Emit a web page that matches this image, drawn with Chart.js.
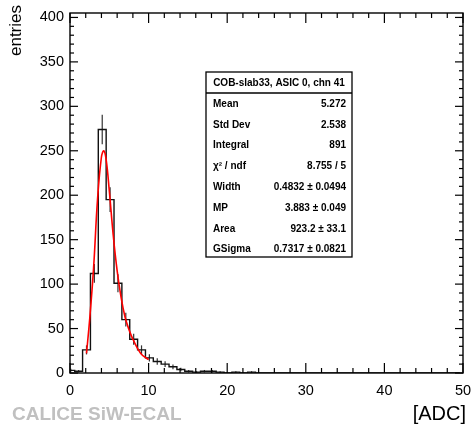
<!DOCTYPE html>
<html>
<head>
<meta charset="utf-8">
<script src="https://cdn.jsdelivr.net/npm/chart.js@4.4.1/dist/chart.umd.min.js"></script>
<style>
  body { margin: 0; background: #fff; }
</style>
</head>
<body>
<canvas id="adcchart" width="473" height="428"></canvas>
<script>
// Histogram: bin lower edges (1 ADC wide) and entries per bin
const binEdges = [-0.4, 0.6, 1.6, 2.6, 3.6, 4.6, 5.6, 6.6, 7.6, 8.6, 9.6,
    10.6, 11.6, 12.6, 13.6, 14.6, 15.6, 16.6, 17.6, 18.6, 19.6,
    20.6, 21.6, 22.6, 23.6, 24.6, 25.6, 26.6, 27.6, 28.6, 29.6,
    30.6, 31.6, 32.6, 33.6, 34.6, 35.6, 36.6, 37.6, 38.6, 39.6,
    40.6, 41.6, 42.6, 43.6, 44.6, 45.6, 46.6, 47.6, 48.6, 49.6];
const entries = [3, 2, 26, 112, 274, 195, 101, 60, 38, 26,
    17, 13, 10, 7, 4, 2, 1, 2, 2, 1,
    0, 1, 0, 1, 0, 0, 0, 0, 0, 0,
    0, 0, 0, 0, 0, 0, 0, 0, 0, 0,
    0, 0, 0, 0, 0, 0, 0, 0, 0, 0];

// Landau x Gauss fit
const fitX = [2.1, 2.5, 3.0, 3.5, 4.0, 4.3, 4.6, 5.0, 5.5, 6.0, 6.5, 7.0, 7.5, 8.0, 9.0, 10.0];
const fitY = [22, 60, 118, 195, 243, 250, 240, 205, 155, 115, 85, 63, 49, 38, 22, 15];

// Axis ticks
const xTicks = [0, 10, 20, 30, 40, 50];
const xTickLabels = ['0', '10', '20', '30', '40', '50'];
const yTicks = [0, 50, 100, 150, 200, 250, 300, 350, 400];
const yTickLabels = ['0', '50', '100', '150', '200', '250', '300', '350', '400'];

// Stats box
const statsTitle = 'COB-slab33, ASIC 0, chn 41';
const statNames = ['Mean', 'Std Dev', 'Integral', 'χ² / ndf', 'Width', 'MP', 'Area', 'GSigma'];
const statValues = ['5.272', '2.538', '891', '8.755 / 5', '0.4832 ± 0.0494', '3.883 ± 0.049', '923.2 ± 33.1', '0.7317 ± 0.0821'];

// step points: one point per bin edge, plus closing point
const histPoints = binEdges.map((e, i) => ({x: e, y: entries[Math.max(i - 1, 0)]}));
const fitPoints = fitX.map((v, i) => ({x: v, y: fitY[i]}));

const FONT = '"Liberation Sans", Arial, Helvetica, sans-serif';

// draws frame, inward ticks, labels, error bars and the stats box
const rootStyle = {
    id: 'rootStyle',
    beforeDatasetsDraw(chart) {
        const {ctx, scales: {x, y}} = chart;
        ctx.save();
        ctx.beginPath();
        ctx.rect(chart.chartArea.left, chart.chartArea.top, chart.chartArea.width, chart.chartArea.height);
        ctx.clip();
        ctx.strokeStyle = '#333';
        ctx.lineWidth = 1.2;
        entries.forEach((n, i) => {
            if (n <= 0) return;
            const err = Math.sqrt(n);
            const px = x.getPixelForValue((binEdges[i] + binEdges[i + 1]) / 2);
            ctx.beginPath();
            ctx.moveTo(px, y.getPixelForValue(n - err));
            ctx.lineTo(px, y.getPixelForValue(n + err));
            ctx.stroke();
        });
        ctx.restore();
    },
    afterDraw(chart) {
        const {ctx, chartArea: a, scales: {x, y}} = chart;
        const line = (x1, y1, x2, y2) => {
            ctx.beginPath(); ctx.moveTo(x1, y1); ctx.lineTo(x2, y2); ctx.stroke();
        };
        ctx.save();
        ctx.strokeStyle = '#000';
        ctx.lineWidth = 1.4;
        ctx.strokeRect(a.left, a.top, a.right - a.left, a.bottom - a.top);

        ctx.lineWidth = 1.2;
        for (let v = 0; v <= 50; v += 2) {
            const px = x.getPixelForValue(v);
            const len = v % 10 === 0 ? 10 : 5;
            line(px, a.bottom, px, a.bottom - len);
            line(px, a.top, px, a.top + len);
        }
        for (let v = 0; v <= 400; v += 10) {
            const py = y.getPixelForValue(v);
            const len = v % 50 === 0 ? 8 : 4;
            line(a.left, py, a.left + len, py);
            line(a.right, py, a.right - len, py);
        }

        ctx.fillStyle = '#000';
        ctx.font = '14.5px ' + FONT;
        ctx.textAlign = 'right';
        ctx.textBaseline = 'middle';
        yTicks.forEach((v, i) => ctx.fillText(yTickLabels[i], a.left - 6, y.getPixelForValue(v)));
        ctx.textAlign = 'center';
        xTicks.forEach((v, i) => ctx.fillText(xTickLabels[i], x.getPixelForValue(v), a.bottom + 18));

        ctx.font = '20px ' + FONT;
        ctx.textAlign = 'right';
        ctx.fillText('[ADC]', 466, 414);
        ctx.font = '17px ' + FONT;
        ctx.save();
        ctx.translate(16, 5);
        ctx.rotate(-Math.PI / 2);
        ctx.fillText('entries', 0, 0);
        ctx.restore();

        ctx.font = 'bold 19px ' + FONT;
        ctx.fillStyle = '#c0c0c0';
        ctx.textAlign = 'left';
        ctx.fillText('CALICE SiW-ECAL', 12, 415);

        // stats box
        const bx = 206, by = 72, bw = 146, bh = 185;
        ctx.fillStyle = '#fff';
        ctx.fillRect(bx, by, bw, bh);
        ctx.strokeStyle = '#000';
        ctx.lineWidth = 1.3;
        ctx.strokeRect(bx, by, bw, bh);
        line(bx, by + 21, bx + bw, by + 21);
        ctx.fillStyle = '#000';
        ctx.font = 'bold 10px ' + FONT;
        ctx.textAlign = 'center';
        ctx.fillText(statsTitle, bx + bw / 2, by + 11);
        statNames.forEach((name, i) => {
            const ty = 104 + i * 20.8;
            ctx.textAlign = 'left';
            ctx.fillText(name, bx + 7, ty);
            ctx.textAlign = 'right';
            ctx.fillText(statValues[i], bx + bw - 6, ty);
        });
        ctx.restore();
    }
};

const ctx = document.getElementById('adcchart').getContext('2d');
const adcChart = new Chart(ctx, {
    type: 'line',
    data: {
        datasets: [{
            label: 'fit',
            data: fitPoints,
            borderColor: '#ff0000',
            borderWidth: 1.6,
            pointRadius: 0,
            tension: 0.4,
            fill: false
        }, {
            label: 'hist',
            data: histPoints,
            borderColor: '#111',
            borderWidth: 1.4,
            pointRadius: 0,
            stepped: 'after',
            fill: false
        }]
    },
    options: {
        responsive: false,
        animation: false,
        layout: {
            padding: {left: 70, right: 10, top: 13, bottom: 55}
        },
        plugins: {
            legend: {display: false},
            tooltip: {enabled: false}
        },
        scales: {
            x: {type: 'linear', min: 0, max: 50, display: false},
            y: {type: 'linear', min: 0, max: 405, display: false}
        }
    },
    plugins: [rootStyle]
});
</script>
</body>
</html>
